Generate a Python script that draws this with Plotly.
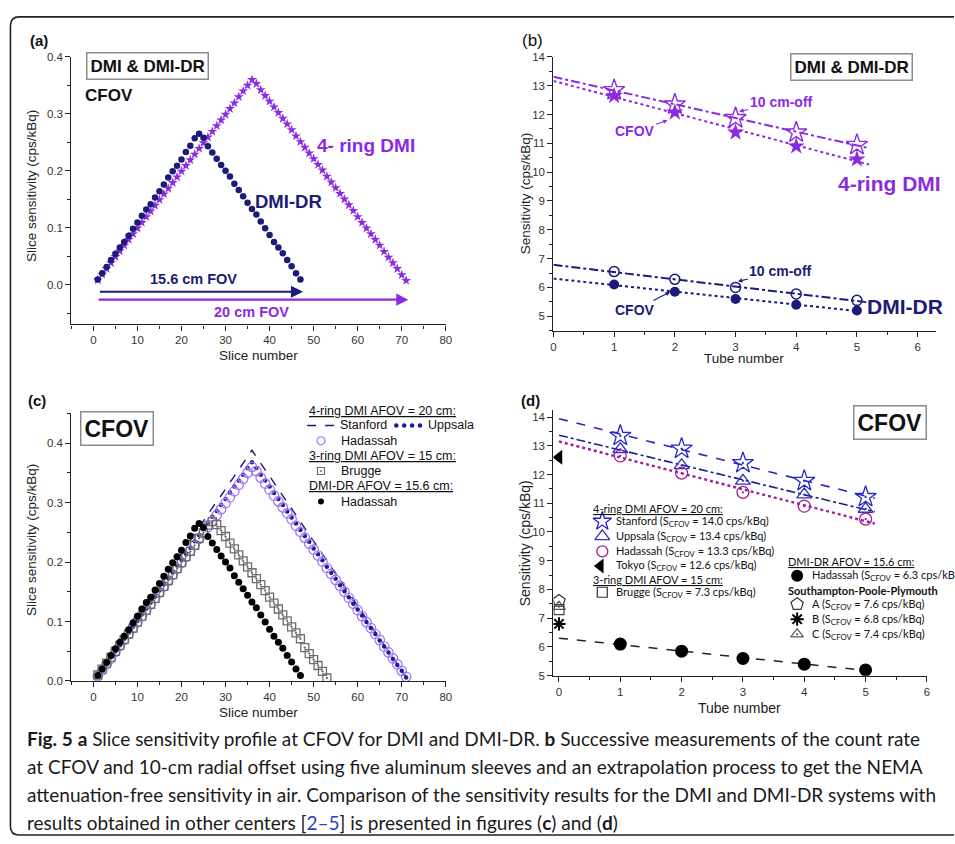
import numpy as np
import plotly.graph_objects as go

W, H = 955, 844
F = "Liberation Sans, Arial, sans-serif"
FN = "Lato, Liberation Sans, sans-serif"

# ---------------- data ----------------
# (a)/(c) slice sensitivity profiles (cps/kBq)
slices_dr = list(range(1, 48))
sens_dr_hadassah = [0.009, 0.020, 0.031, 0.043, 0.054, 0.065, 0.075, 0.086, 0.098, 0.109,
                    0.121, 0.132, 0.141, 0.153, 0.164, 0.176, 0.188, 0.199, 0.209, 0.220,
                    0.233, 0.244, 0.257, 0.265, 0.258, 0.243, 0.232, 0.221, 0.210, 0.200,
                    0.190, 0.177, 0.166, 0.155, 0.144, 0.133, 0.123, 0.111, 0.099, 0.087,
                    0.075, 0.065, 0.055, 0.043, 0.032, 0.020, 0.009]
slices_dmi = list(range(1, 72))
sens_dmi_hadassah = [0.008, 0.018, 0.028, 0.038, 0.049, 0.059, 0.069, 0.079, 0.089, 0.099,
                     0.109, 0.119, 0.129, 0.139, 0.149, 0.159, 0.169, 0.179, 0.189, 0.199,
                     0.209, 0.219, 0.229, 0.239, 0.249, 0.259, 0.269, 0.279, 0.289, 0.299,
                     0.309, 0.319, 0.330, 0.340, 0.350, 0.360, 0.353, 0.342, 0.332, 0.322,
                     0.312, 0.302, 0.292, 0.282, 0.272, 0.261, 0.251, 0.241, 0.231, 0.221,
                     0.211, 0.201, 0.190, 0.180, 0.170, 0.160, 0.150, 0.140, 0.130, 0.119,
                     0.109, 0.099, 0.089, 0.079, 0.069, 0.058, 0.048, 0.038, 0.028, 0.017,
                     0.007]
sens_stanford = [0.010, 0.021, 0.032, 0.042, 0.053, 0.064, 0.075, 0.086, 0.096, 0.107,
                 0.118, 0.129, 0.140, 0.150, 0.161, 0.172, 0.183, 0.194, 0.204, 0.215,
                 0.226, 0.237, 0.248, 0.258, 0.269, 0.280, 0.291, 0.302, 0.312, 0.323,
                 0.334, 0.345, 0.356, 0.366, 0.377, 0.388, 0.377, 0.366, 0.355, 0.344,
                 0.333, 0.322, 0.311, 0.300, 0.289, 0.279, 0.268, 0.257, 0.246, 0.235,
                 0.224, 0.213, 0.202, 0.191, 0.180, 0.169, 0.158, 0.148, 0.137, 0.126,
                 0.115, 0.104, 0.093, 0.082, 0.071, 0.060, 0.049, 0.038, 0.027, 0.017,
                 0.006]
sens_uppsala = [0.009, 0.019, 0.030, 0.040, 0.050, 0.060, 0.071, 0.081, 0.091, 0.101,
                0.112, 0.122, 0.132, 0.142, 0.153, 0.163, 0.173, 0.183, 0.194, 0.204,
                0.214, 0.224, 0.235, 0.245, 0.255, 0.265, 0.276, 0.286, 0.296, 0.306,
                0.317, 0.327, 0.337, 0.347, 0.358, 0.368, 0.358, 0.347, 0.337, 0.327,
                0.316, 0.306, 0.296, 0.285, 0.275, 0.265, 0.254, 0.244, 0.234, 0.223,
                0.213, 0.203, 0.192, 0.182, 0.172, 0.161, 0.151, 0.141, 0.130, 0.120,
                0.110, 0.099, 0.089, 0.079, 0.068, 0.058, 0.048, 0.037, 0.027, 0.017,
                0.006]
slices_brugge = list(range(1, 54))
sens_brugge = [0.010, 0.020, 0.030, 0.040, 0.050, 0.060, 0.070, 0.079, 0.089, 0.099,
               0.109, 0.119, 0.129, 0.139, 0.149, 0.159, 0.169, 0.179, 0.189, 0.199,
               0.209, 0.218, 0.228, 0.240, 0.249, 0.262, 0.268, 0.263, 0.253, 0.243,
               0.232, 0.222, 0.212, 0.202, 0.192, 0.182, 0.172, 0.162, 0.152, 0.141,
               0.131, 0.121, 0.111, 0.101, 0.091, 0.081, 0.071, 0.056, 0.046, 0.036,
               0.026, 0.016, 0.005]

# (b) sensitivity vs tube number (cps/kBq)
tubes = [1, 2, 3, 4, 5]
dmi_off = [12.85, 12.35, 11.88, 11.38, 10.95]
dmi_cfov = [12.65, 12.08, 11.38, 10.90, 10.45]
dr_off = [6.55, 6.28, 6.00, 5.77, 5.55]
dr_cfov = [6.10, 5.85, 5.60, 5.40, 5.20]

# (d) comparison with other centres (cps/kBq)
stanford_d = [13.35, 12.90, 12.40, 11.78, 11.22]
uppsala_d = [12.88, 12.32, 11.78, 11.30, 10.80]
hadassah_d = [12.65, 12.05, 11.38, 10.90, 10.45]
dr_hadassah_d = [6.10, 5.85, 5.60, 5.40, 5.20]
tokyo_s = [12.6]
brugge_s = [7.3]
spp_a = [7.6]
spp_b = [6.8]
spp_c = [7.4]

# ---------------- colours ----------------
PURPLE = "#8a2be2"
NAVY = "#1b1b78"
VIOLET = "#a070f0"
BLUE = "#2626c4"
MAGENTA = "#a0209a"
GRAY = "#6e6e6e"


def px(x):
    return x / W


def py(y):
    return 1 - y / H


fig = go.Figure()


# ---------------- axes ----------------
def axis_style(rng, dtick, minor_dtick, fmt=None, tick0=0):
    d = dict(range=rng, showline=True, linecolor="#222", linewidth=1.3,
             ticks="outside", ticklen=5, tickwidth=1.2, tickcolor="#222",
             showgrid=False, zeroline=False, dtick=dtick, tick0=tick0,
             tickfont=dict(family=F, size=11.5, color="#333"),
             minor=dict(ticks="outside", ticklen=3, tickwidth=1, tickcolor="#222",
                        dtick=minor_dtick, tick0=tick0, showgrid=False),
             fixedrange=True)
    if fmt:
        d["tickformat"] = fmt
    return d


layout_axes = dict(
    xaxis=dict(domain=[px(69), px(447)], anchor="y", **axis_style([-5, 80], 10, 5)),
    yaxis=dict(domain=[py(323), py(51.7)], anchor="x", **axis_style([-0.07, 0.4], 0.1, 0.05, ".1f")),
    xaxis2=dict(domain=[px(555.7), px(941.7)], anchor="y2", **axis_style([0, 6.3], 1, 0.5)),
    yaxis2=dict(domain=[py(329.3), py(51.7)], anchor="x2", **axis_style([4.5, 14], 1, 0.5)),
    xaxis3=dict(domain=[px(69), px(447)], anchor="y3", **axis_style([-5, 80], 10, 5)),
    yaxis3=dict(domain=[py(684.7), py(413.3)], anchor="x3", **axis_style([0, 0.45], 0.1, 0.05, ".1f")),
    xaxis4=dict(domain=[px(555.7), px(932.7)], anchor="y4", **axis_style([-0.09, 6], 1, 0.5)),
    yaxis4=dict(domain=[py(679.3), py(410)], anchor="x4", **axis_style([5, 14.24], 1, 0.5)),
    # overlay in pixel units, used only for legend keys
    xaxis5=dict(domain=[0, 1], anchor="y5", range=[0, W], visible=False, fixedrange=True),
    yaxis5=dict(domain=[0, 1], anchor="x5", range=[H, 0], visible=False, fixedrange=True),
)

# ---------------- (a) ----------------
fig.add_trace(go.Scatter(x=slices_dmi, y=sens_dmi_hadassah, mode="markers", xaxis="x", yaxis="y",
                         marker=dict(symbol="star", size=7.5, color=PURPLE, line=dict(width=0))))
fig.add_trace(go.Scatter(x=slices_dr, y=sens_dr_hadassah, mode="markers", xaxis="x", yaxis="y",
                         marker=dict(symbol="circle", size=6.5, color=NAVY, line=dict(width=0))))

# ---------------- (b) ----------------
for vals, col, dash, xe in [(dmi_off, PURPLE, "dashdot", 5.2), (dmi_cfov, PURPLE, "dot", 5.2),
                            (dr_off, NAVY, "dashdot", 5.2), (dr_cfov, NAVY, "dot", 5.0)]:
    k, b0 = np.polyfit(tubes, vals, 1)
    xs = np.array([0, xe])
    fig.add_trace(go.Scatter(x=xs, y=k * xs + b0, mode="lines", xaxis="x2", yaxis="y2",
                             line=dict(color=col, width=2, dash=dash)))
fig.add_trace(go.Scatter(x=tubes, y=dmi_off, mode="markers", xaxis="x2", yaxis="y2",
                         marker=dict(symbol="star-open", size=16, color=PURPLE, line=dict(width=1.4))))
fig.add_trace(go.Scatter(x=tubes, y=dmi_cfov, mode="markers", xaxis="x2", yaxis="y2",
                         marker=dict(symbol="star", size=13, color=PURPLE, line=dict(width=0))))
fig.add_trace(go.Scatter(x=tubes, y=dr_off, mode="markers", xaxis="x2", yaxis="y2",
                         marker=dict(symbol="circle-open", size=10, color=NAVY, line=dict(width=1.5))))
fig.add_trace(go.Scatter(x=tubes, y=dr_cfov, mode="markers", xaxis="x2", yaxis="y2",
                         marker=dict(symbol="circle", size=10, color=NAVY, line=dict(width=0))))

# ---------------- (c) ----------------
fig.add_trace(go.Scatter(x=slices_dmi, y=sens_stanford, mode="lines", xaxis="x3", yaxis="y3",
                         line=dict(color=NAVY, width=1.4, dash="dash")))
fig.add_trace(go.Scatter(x=slices_dmi, y=sens_uppsala, mode="markers", xaxis="x3", yaxis="y3",
                         marker=dict(symbol="circle", size=4.5, color="#1a1aa0", line=dict(width=0))))
fig.add_trace(go.Scatter(x=slices_dmi, y=sens_dmi_hadassah, mode="markers", xaxis="x3", yaxis="y3",
                         marker=dict(symbol="circle-open", size=9.5, color=VIOLET, line=dict(width=1.2))))
fig.add_trace(go.Scatter(x=slices_brugge, y=sens_brugge, mode="markers", xaxis="x3", yaxis="y3",
                         marker=dict(symbol="square-open-dot", size=8, color=GRAY, line=dict(width=1.3))))
fig.add_trace(go.Scatter(x=slices_dr, y=sens_dr_hadassah, mode="markers", xaxis="x3", yaxis="y3",
                         marker=dict(symbol="circle", size=7, color="black", line=dict(width=0))))

# ---------------- (d) ----------------
for vals, col, dash, xe, wdt in [(stanford_d, BLUE, "dash", 5.15, 1.6), (uppsala_d, "#1e1e90", "dashdot", 5.15, 1.6),
                                 (hadassah_d, MAGENTA, "dot", 5.15, 2.4), (dr_hadassah_d, "#222", "dash", 5.0, 1.5)]:
    k, b0 = np.polyfit(tubes, vals, 1)
    xs = np.array([0, xe])
    fig.add_trace(go.Scatter(x=xs, y=k * xs + b0, mode="lines", xaxis="x4", yaxis="y4",
                             line=dict(color=col, width=wdt, dash=dash)))
fig.add_trace(go.Scatter(x=tubes, y=stanford_d, mode="markers", xaxis="x4", yaxis="y4",
                         marker=dict(symbol="star-open-dot", size=16, color=BLUE, line=dict(width=1.3))))
fig.add_trace(go.Scatter(x=tubes, y=uppsala_d, mode="markers", xaxis="x4", yaxis="y4",
                         marker=dict(symbol="triangle-up-open-dot", size=13, color="#3232c0", line=dict(width=1.3))))
fig.add_trace(go.Scatter(x=tubes, y=hadassah_d, mode="markers", xaxis="x4", yaxis="y4",
                         marker=dict(symbol="circle-open-dot", size=12, color=MAGENTA, line=dict(width=1.3))))
fig.add_trace(go.Scatter(x=tubes, y=dr_hadassah_d, mode="markers", xaxis="x4", yaxis="y4",
                         marker=dict(symbol="circle", size=13, color="black", line=dict(width=0))))
fig.add_trace(go.Scatter(x=[0], y=tokyo_s, mode="markers", xaxis="x4", yaxis="y4",
                         marker=dict(symbol="triangle-left", size=13, color="black", line=dict(width=0))))
fig.add_trace(go.Scatter(x=[0], y=spp_a, mode="markers", xaxis="x4", yaxis="y4",
                         marker=dict(symbol="pentagon-open", size=13, color="#333", line=dict(width=1.2))))
fig.add_trace(go.Scatter(x=[0], y=spp_c, mode="markers", xaxis="x4", yaxis="y4",
                         marker=dict(symbol="triangle-up-open-dot", size=11, color="#555", line=dict(width=1.2))))
fig.add_trace(go.Scatter(x=[0], y=brugge_s, mode="markers", xaxis="x4", yaxis="y4",
                         marker=dict(symbol="square-open", size=10, color="#444", line=dict(width=1.2))))
fig.add_trace(go.Scatter(x=[0], y=spp_b, mode="markers", xaxis="x4", yaxis="y4",
                         marker=dict(symbol="asterisk-open", size=11, color="black", line=dict(width=2))))


# ---------------- legend keys (pixel overlay) ----------------
def key(xs, ys, **kw):
    fig.add_trace(go.Scatter(x=xs, y=ys, xaxis="x5", yaxis="y5", **kw))


key([307, 335], [425.5, 425.5], mode="lines", line=dict(color=NAVY, width=1.4, dash="dash"))
key([397, 405, 413, 421], [425.5] * 4, mode="markers", marker=dict(size=4.5, color="#1a1aa0"))
key([321], [441], mode="markers", marker=dict(symbol="circle-open", size=8, color=VIOLET, line=dict(width=1.2)))
key([321], [471.7], mode="markers", marker=dict(symbol="square-open-dot", size=7, color=GRAY, line=dict(width=1.2)))
key([321], [502.7], mode="markers", marker=dict(symbol="circle", size=6, color="black"))

key([605], [522.7], mode="markers", marker=dict(symbol="star-open", size=14, color=BLUE, line=dict(width=1.3)))
key([605], [538], mode="markers", marker=dict(symbol="triangle-up-open", size=13, color="#3232c0", line=dict(width=1.3)))
key([605], [553.3], mode="markers", marker=dict(symbol="circle-open", size=11, color=MAGENTA, line=dict(width=1.3)))
key([603], [568], mode="markers", marker=dict(symbol="triangle-left", size=13, color="black"))
key([605], [594.7], mode="markers", marker=dict(symbol="square-open", size=10, color="#333", line=dict(width=1.2)))
key([801.7], [578], mode="markers", marker=dict(symbol="circle", size=12, color="black"))
key([801.7], [606.8], mode="markers", marker=dict(symbol="pentagon-open", size=13, color="#333", line=dict(width=1.2)))
key([801.7], [622], mode="markers", marker=dict(symbol="asterisk-open", size=11, color="black", line=dict(width=2)))
key([801.7], [637.2], mode="markers", marker=dict(symbol="triangle-up-open-dot", size=11, color="#555", line=dict(width=1.2)))

# ---------------- annotations ----------------
anns = []


def txt(x, y, text, size=12, color="#111", family=F, xanchor="center", yanchor="middle", angle=0, **kw):
    anns.append(dict(x=px(x), y=py(y), xref="paper", yref="paper", text=text, showarrow=False,
                     xanchor=xanchor, yanchor=yanchor, textangle=angle,
                     font=dict(family=family, size=size, color=color), **kw))


def box(x, y, text, size):
    txt(x, y, "<b>" + text + "</b>", size=size, color="#111", bgcolor="white",
        bordercolor="#8c8c8c", borderwidth=1.5, borderpad=3)


# panel labels
txt(25, 35, "<b>(a)</b>", 15, xanchor="left")
txt(522, 35, "(b)", 17, xanchor="left")
txt(23, 400, "<b>(c)</b>", 15, xanchor="left")
txt(521, 400, "<b>(d)</b>", 15, xanchor="left")

# axis titles
txt(29, 183, "Slice sensitivity (cps/kBq)", 13.5, color="#222", angle=-90)
txt(258, 355, "Slice number", 13.5, color="#222")
txt(527, 190, "Sensitivity (cps/kBq)", 13.5, color="#222", angle=-90)
txt(748, 358, "Tube number", 13.5, color="#222")
txt(29, 542, "Slice sensitivity (cps/kBq)", 13.5, color="#222", angle=-90)
txt(258, 717, "Slice number", 13.5, color="#222")
txt(527, 545, "Sensitivity (cps/kBq)", 14, color="#222", angle=-90)
txt(744, 712, "Tube number", 14, color="#222")

# (a) texts
box(146, 61, "DMI &amp; DMI-DR", 17)
txt(81, 91, "<b>CFOV</b>", 17, xanchor="left")
txt(366, 142, "<b>4- ring DMI</b>", 19, color=PURPLE)
txt(288, 198, "<b>DMI-DR</b>", 18.5, color=NAVY)
txt(192, 277, "<b>15.6 cm FOV</b>", 14.5, color=NAVY)
txt(251, 310, "<b>20 cm FOV</b>", 14.5, color=PURPLE)

# (b) texts
box(857, 62, "DMI &amp; DMI-DR", 17)
txt(895, 180, "<b>4-ring DMI</b>", 21, color=PURPLE)
txt(911, 305, "<b>DMI-DR</b>", 21, color=NAVY)

# (c) texts
box(115.5, 428.5, "CFOV", 23)
LS = 12.5
txt(307, 411, "<u>4-ring DMI AFOV = 20 cm:</u>", LS, xanchor="left")
txt(338, 425.5, "Stanford", LS, xanchor="left")
txt(427, 425.5, "Uppsala", LS, xanchor="left")
txt(339, 441, "Hadassah", LS, xanchor="left")
txt(307, 456.3, "<u>3-ring DMI AFOV = 15 cm:</u>", LS, xanchor="left")
txt(339, 471.7, "Brugge", LS, xanchor="left")
txt(307, 487.3, "<u>DMI-DR AFOV = 15.6 cm:</u>", LS, xanchor="left")
txt(339, 502.7, "Hadassah", LS, xanchor="left")

# (d) texts
box(895, 422.5, "CFOV", 23)
DS = 11
S = "(S<sub>CFOV</sub> = "
txt(594, 510, "<u>4-ring DMI AFOV = 20 cm:</u>", DS, family=FN, xanchor="left")
txt(617, 522.7, "Stanford " + S + "14.0 cps/kBq)", DS, family=FN, xanchor="left")
txt(617, 538, "Uppsala " + S + "13.4 cps/kBq)", DS, family=FN, xanchor="left")
txt(617, 553.3, "Hadassah " + S + "13.3 cps/kBq)", DS, family=FN, xanchor="left")
txt(617, 568, "Tokyo " + S + "12.6 cps/kBq)", DS, family=FN, xanchor="left")
txt(594, 582, "<u>3-ring DMI AFOV = 15 cm:</u>", DS, family=FN, xanchor="left")
txt(617, 594.7, "Brugge " + S + "7.3 cps/kBq)", DS, family=FN, xanchor="left")
txt(790, 564, "<u>DMI-DR AFOV = 15.6 cm:</u>", DS, family=FN, xanchor="left")
txt(815, 578, "Hadassah " + S + "6.3 cps/kBq)", DS, family=FN, xanchor="left")
txt(790, 592.5, "<b>Southampton-Poole-Plymouth</b>", DS, family=FN, xanchor="left")
txt(815, 606.8, "A " + S + "7.6 cps/kBq)", DS, family=FN, xanchor="left")
txt(815, 622, "B " + S + "6.8 cps/kBq)", DS, family=FN, xanchor="left")
txt(815, 637.2, "C " + S + "7.4 cps/kBq)", DS, family=FN, xanchor="left")

# arrows in (a)
anns.append(dict(x=47.6, y=-0.0126, ax=0.8, ay=-0.0126, xref="x", yref="y", axref="x", ayref="y",
                 showarrow=True, arrowhead=2, arrowsize=1.1, arrowwidth=2.2, arrowcolor=NAVY, text=" "))
anns.append(dict(x=71.5, y=-0.0265, ax=0.5, ay=-0.0265, xref="x", yref="y", axref="x", ayref="y",
                 showarrow=True, arrowhead=2, arrowsize=1.1, arrowwidth=2.2, arrowcolor=PURPLE, text=" "))

# callouts in (b)
for (hx, hy, dx, dy, label, col) in [(3.06, 12.11, 42, -9, "10 cm-off", PURPLE),
                                     (1.88, 11.80, -33, 11, "CFOV", PURPLE),
                                     (3.04, 6.21, 43, -10, "10 cm-off", NAVY),
                                     (1.92, 5.84, -35, 18, "CFOV", NAVY)]:
    anns.append(dict(x=hx, y=hy, xref="x2", yref="y2", ax=dx, ay=dy, showarrow=True,
                     arrowhead=2, arrowsize=0.8, arrowwidth=1.1, arrowcolor=col,
                     text="<b>" + label + "</b>", font=dict(family=F, size=14, color=col)))

# caption
CF = FN
CS = 19
cap_lines = [
    "<b>Fig. 5</b> <b>a</b> Slice sensitivity profile at CFOV for DMI and DMI-DR. <b>b</b> Successive measurements of the count rate",
    "at CFOV and 10-cm radial offset using five aluminum sleeves and an extrapolation process to get the NEMA",
    "attenuation-free sensitivity in air. Comparison of the sensitivity results for the DMI and DMI-DR systems with",
    "results obtained in other centers [<span style='color:#2b3fbf'>2\u20135</span>] is presented in figures (<b>c</b>) and (<b>d</b>)",
]
for i, line in enumerate(cap_lines):
    txt(22, 743 + i * 28.5, line, CS, color="#1a1a1a", family=CF, xanchor="left")

# frame
r = 9
x0, y0, y1 = 7.5, 11, 841
path = (f"M {px(W + 5)} {py(y0)} L {px(x0 + r)} {py(y0)} Q {px(x0)} {py(y0)} {px(x0)} {py(y0 + r)} "
        f"L {px(x0)} {py(y1 - r)} Q {px(x0)} {py(y1)} {px(x0 + r)} {py(y1)} L {px(W + 5)} {py(y1)}")
shapes = [dict(type="path", xref="paper", yref="paper", path=path, line=dict(color="#222", width=1.6))]

fig.update_layout(
    width=W, height=H, margin=dict(l=0, r=0, t=0, b=0), autosize=False,
    paper_bgcolor="white", plot_bgcolor="rgba(0,0,0,0)", showlegend=False,
    annotations=anns, shapes=shapes, font=dict(family=F),
    **layout_axes,
)

fig.write_html("out.html", config=dict(displayModeBar=False))
